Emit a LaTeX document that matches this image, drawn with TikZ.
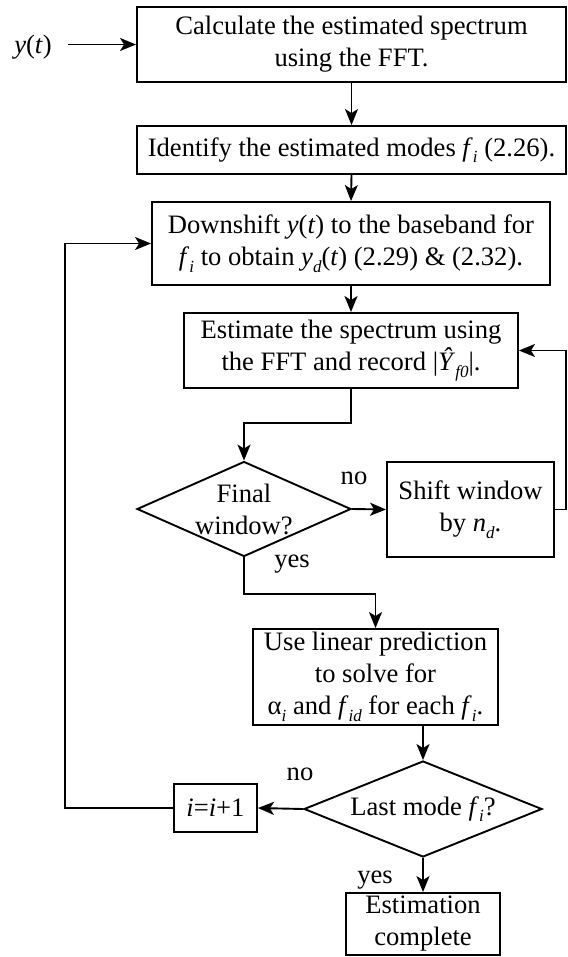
\documentclass[tikz,border=0pt]{standalone}
\usepackage{fontspec}
\setmainfont{Liberation Serif}
\usetikzlibrary{arrows.meta,shapes.geometric}
\newcommand\lsub[1]{\raisebox{-0.25em}{\fontsize{17}{17}\selectfont #1}}
\begin{document}
\begin{tikzpicture}[x=1pt,y=-1pt,
  every node/.style={font=\fontsize{26.6}{32}\selectfont},
  box/.style={draw,line width=1.9pt,rectangle,inner sep=0pt,align=center},
  dia/.style={draw,line width=1.9pt,shape=diamond,inner sep=0pt},
  arr/.style={line width=1.9pt,-{Stealth[length=16pt,width=13pt,inset=4pt]}},
  lbl/.style={inner sep=0pt}]
\useasboundingbox (0,0) rectangle (567,957);
\node[box,minimum width=429pt,minimum height=75pt] (b1) at (351.5,44.5) {Calculate the estimated spectrum\\using the FFT.};
\node[box,minimum width=429pt,minimum height=48pt] (b2) at (351.5,150) {Identify the estimated modes \textit{f}\lsub{\textit{i}} (2.26).};
\node[box,minimum width=398pt,minimum height=83pt] (b3) at (351,243.5) {Downshift \textit{y}(\textit{t}) to the baseband for\\\textit{f}\lsub{\textit{i}} to obtain \textit{y}\lsub{\textit{d}}(\textit{t}) (2.29) \& (2.32).};
\node[box,minimum width=334pt,minimum height=75pt] (b4) at (351,350.5) {Estimate the spectrum using\\the FFT and record |\textit{Ŷ}\lsub{\textit{f0}}|.};
\node[dia,minimum width=214pt,minimum height=95pt,label={[lbl,align=center]center:Final\\window?}] (d1) at (244,509) {};
\node[box,minimum width=167pt,minimum height=95pt] (b5) at (470.5,509.5) {Shift window\\by \textit{n}\lsub{\textit{d}}.};
\node[box,minimum width=245pt,minimum height=96pt] (b6) at (375.5,677) {Use linear prediction\\to solve for\\α\lsub{\textit{i}} and \textit{f}\lsub{\textit{id}} for each \textit{f}\lsub{\textit{i}}.};
\node[dia,minimum width=238pt,minimum height=96pt,label={[lbl]center:Last mode \textit{f}\lsub{\textit{i}}?}] (d2) at (423,809) {};
\node[box,minimum width=83pt,minimum height=48pt] (b7) at (215.5,808) {\textit{i}=\textit{i}+1};
\node[box,minimum width=154pt,minimum height=62pt] (b8) at (423,924) {Estimation\\complete};
\node[lbl] (yt) at (33,47) {\textit{y}(\textit{t})};
\node[lbl] (no1) at (354,478) {no};
\node[lbl] (yes1) at (292,564) {yes};
\node[lbl] (no2) at (300,774) {no};
\node[lbl] (yes2) at (375,880) {yes};
\coordinate (yin) at (68,44.5);
\coordinate (fr) at (566,0);
\coordinate (lp) at (65,0);
\draw[arr] (yin) -- (b1.west);
\draw[arr] (b1.south) -- (b2.north);
\draw[arr] (b2.south) -- (b3.north);
\draw[arr] (b3.south) -- (b4.north);
\draw[arr] (b4.south) -- ++(0,34) -| (d1.north);
\draw[arr] (d1.east) -- (b5.west);
\draw[arr] (b5.east) -| (fr |- b4.east) -- (b4.east);
\draw[arr] (d1.south) -- ++(0,36.5) -| (b6.north);
\draw[arr] (b6.south -| d2.north) -- (d2.north);
\draw[arr] (d2.west) -- (b7.east);
\draw[arr] (b7.west) -| (lp |- b3.west) -- (b3.west);
\draw[arr] (d2.south) -- (b8.north);
\end{tikzpicture}
\end{document}
